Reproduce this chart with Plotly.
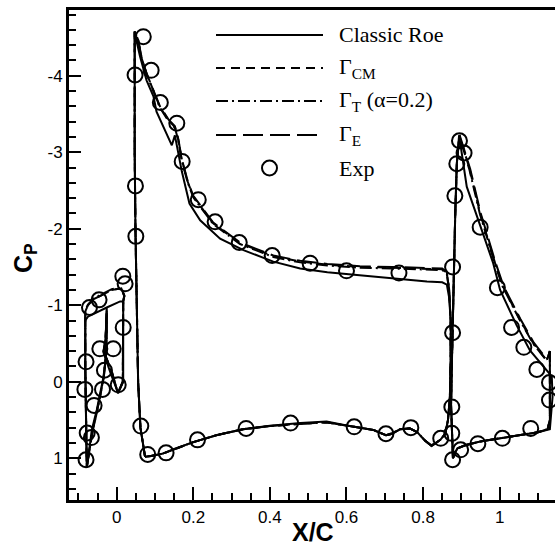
import plotly.graph_objects as go

# ---------------- data ----------------
# Experimental points
exp_x = [-0.080, -0.077, -0.066, -0.059, -0.037, -0.083, -0.080, -0.071, -0.046, -0.044,
         -0.009, -0.032, 0.004, 0.017, 0.016, 0.022,
         0.048, 0.0695, 0.090, 0.114, 0.157, 0.171, 0.213, 0.257, 0.320, 0.406,
         0.505, 0.600, 0.737, 0.049, 0.050,
         0.063, 0.081, 0.129, 0.211, 0.338, 0.454, 0.620, 0.703, 0.768, 0.846,
         0.877, 0.898, 0.943, 1.007, 1.081, 1.130, 1.130,
         0.875, 0.875, 0.877, 0.877, 0.883, 0.888, 0.895, 0.907, 0.949,
         0.994, 1.031, 1.063, 1.097]
exp_y = [1.02, 0.67, 0.73, 0.31, 0.10, 0.10, -0.26, -0.97, -1.07, -0.43,
         -0.43, -0.15, 0.04, -0.71, -1.38, -1.28,
         -4.01, -4.51, -4.07, -3.65, -3.38, -2.88, -2.38, -2.09, -1.82, -1.65,
         -1.55, -1.45, -1.42, -2.56, -1.90,
         0.58, 0.95, 0.93, 0.76, 0.61, 0.54, 0.59, 0.68, 0.60, 0.74,
         1.02, 0.89, 0.81, 0.74, 0.61, 0.24, 0.01,
         0.675, 0.33, -0.64, -1.50, -2.43, -2.85, -3.15, -2.99, -2.02,
         -1.23, -0.71, -0.45, -0.16]

# Classic Roe
roe_slat_x = [0.017, 0.009, -0.026, -0.061, -0.075, -0.082, -0.082, -0.080, -0.078,
              -0.072, -0.065, -0.052, -0.042, -0.035, -0.031, -0.028, -0.026, -0.026,
              -0.029, -0.035, -0.015, 0.004, 0.017, 0.017]
roe_slat_y = [-1.05, -1.05, -0.97, -0.89, -0.85, -0.80, -0.20, 0.50, 1.12,
              0.90, 0.63, 0.37, 0.12, -0.05, -0.20, -0.35, -0.60, -0.97,
              -0.55, -0.39, -0.10, 0.15, 0.00, -1.05]
roe_main_x = [0.074, 0.062, 0.056, 0.052, 0.049, 0.047, 0.046, 0.047, 0.052, 0.061,
              0.078, 0.096, 0.104, 0.126, 0.144, 0.152, 0.160, 0.170, 0.190, 0.218,
              0.270, 0.331, 0.409, 0.479, 0.550, 0.635, 0.720, 0.810, 0.850, 0.862,
              0.868, 0.872, 0.872, 0.870, 0.865, 0.858, 0.845, 0.822, 0.805, 0.785,
              0.765, 0.740, 0.720, 0.703, 0.670, 0.620, 0.548, 0.480, 0.400, 0.330,
              0.260, 0.200, 0.150, 0.120, 0.090, 0.074]
roe_main_y = [0.98, 0.60, 0.00, -1.00, -2.00, -3.00, -4.00, -4.58, -4.45, -4.25,
              -3.94, -3.73, -3.53, -3.29, -3.09, -3.22, -3.00, -2.75, -2.33, -2.11,
              -1.87, -1.72, -1.57, -1.48, -1.43, -1.39, -1.35, -1.31, -1.30, -1.27,
              -1.10, -0.80, -0.30, 0.20, 0.50, 0.68, 0.76, 0.84, 0.77, 0.66,
              0.61, 0.62, 0.68, 0.70, 0.63, 0.59, 0.52, 0.54, 0.575, 0.62,
              0.70, 0.79, 0.88, 0.94, 0.97, 0.98]
roe_flap_x = [0.878, 0.875, 0.873, 0.875, 0.877, 0.879, 0.884, 0.888, 0.894, 0.914,
              0.949, 0.983, 1.001, 1.044, 1.079, 1.114, 1.136, 1.138, 1.135, 1.131,
              1.100, 1.050, 1.000, 0.950, 0.910, 0.890, 0.884, 0.878]
roe_flap_y = [1.00, 0.60, 0.30, -0.20, -0.64, -1.46, -2.20, -2.85, -3.22, -2.55,
              -2.03, -1.55, -1.20, -0.74, -0.41, -0.20, -0.07, 0.20, 0.45, 0.62,
              0.66, 0.70, 0.74, 0.78, 0.83, 0.87, 0.92, 1.00]

# Gamma_CM
cm_slat_x = [0.017, 0.020, 0.012, -0.013, -0.040, -0.060, -0.075, -0.082, -0.082, -0.080,
             -0.078, -0.070, -0.062, -0.050, -0.040, -0.034, -0.030, -0.027, -0.026,
             -0.029, -0.034, -0.012, 0.003, 0.016, 0.017]
cm_slat_y = [-1.05, -1.12, -1.22, -1.20, -1.13, -1.08, -1.00, -0.92, -0.20, 0.50,
             1.12, 0.85, 0.62, 0.35, 0.12, -0.05, -0.25, -0.45, -0.92,
             -0.55, -0.40, -0.12, 0.15, 0.00, -1.05]
cm_main_x = [0.074, 0.062, 0.056, 0.052, 0.049, 0.047, 0.046, 0.047, 0.056, 0.065,
             0.078, 0.096, 0.113, 0.135, 0.152, 0.161, 0.170, 0.185, 0.200, 0.252,
             0.322, 0.409, 0.479, 0.550, 0.635, 0.720, 0.810, 0.850, 0.862, 0.868,
             0.872, 0.872, 0.870, 0.865, 0.858, 0.845, 0.822, 0.805, 0.785, 0.765,
             0.740, 0.720, 0.703, 0.670, 0.620, 0.548, 0.480, 0.400, 0.330, 0.260,
             0.200, 0.150, 0.120, 0.090, 0.074]
cm_main_y = [0.98, 0.60, 0.00, -1.00, -2.00, -3.00, -4.00, -4.58, -4.47, -4.23,
             -4.03, -3.81, -3.59, -3.42, -3.33, -3.16, -2.90, -2.62, -2.42, -2.07,
             -1.81, -1.64, -1.57, -1.53, -1.50, -1.49, -1.48, -1.47, -1.42, -1.20,
             -0.80, -0.30, 0.20, 0.50, 0.68, 0.76, 0.84, 0.77, 0.66, 0.61,
             0.62, 0.68, 0.70, 0.63, 0.59, 0.53, 0.55, 0.58, 0.62, 0.70,
             0.79, 0.88, 0.94, 0.97, 0.98]
cm_flap_x = [0.878, 0.875, 0.873, 0.875, 0.877, 0.879, 0.884, 0.888, 0.895, 0.922,
             0.949, 0.988, 1.009, 1.053, 1.088, 1.123, 1.131, 1.131, 1.125,
             1.100, 1.050, 1.000, 0.950, 0.910, 0.890, 0.884, 0.878]
cm_flap_y = [1.00, 0.60, 0.30, -0.20, -0.64, -1.46, -2.20, -2.85, -3.22, -2.77,
             -2.20, -1.55, -1.24, -0.81, -0.50, -0.28, -0.40, 0.50, 0.62,
             0.66, 0.70, 0.74, 0.78, 0.83, 0.87, 0.92, 1.00]

# Gamma_T (alpha = 0.2)
t_slat_x = [0.017, 0.020, 0.012, -0.013, -0.040, -0.060, -0.075, -0.082, -0.082, -0.080,
            -0.078, -0.070, -0.062, -0.050, -0.040, -0.034, -0.030, -0.027, -0.026,
            -0.029, -0.034, -0.012, 0.003, 0.016, 0.017]
t_slat_y = [-1.05, -1.13, -1.23, -1.21, -1.14, -1.09, -1.01, -0.93, -0.20, 0.50,
            1.12, 0.86, 0.63, 0.36, 0.13, -0.04, -0.24, -0.45, -0.93,
            -0.56, -0.40, -0.11, 0.15, 0.00, -1.05]
t_main_x = [0.074, 0.062, 0.056, 0.052, 0.049, 0.047, 0.046, 0.047, 0.056, 0.065,
            0.078, 0.096, 0.113, 0.135, 0.152, 0.161, 0.170, 0.185, 0.200, 0.252,
            0.322, 0.409, 0.479, 0.550, 0.635, 0.720, 0.810, 0.850, 0.862, 0.868,
            0.872, 0.872, 0.870, 0.865, 0.858, 0.845, 0.822, 0.805, 0.785, 0.765,
            0.740, 0.720, 0.703, 0.670, 0.620, 0.548, 0.480, 0.400, 0.330, 0.260,
            0.200, 0.150, 0.120, 0.090, 0.074]
t_main_y = [0.98, 0.60, 0.00, -1.00, -2.00, -3.00, -4.00, -4.57, -4.46, -4.22,
            -4.02, -3.80, -3.58, -3.41, -3.32, -3.15, -2.89, -2.61, -2.41, -2.06,
            -1.80, -1.63, -1.56, -1.52, -1.49, -1.48, -1.47, -1.46, -1.41, -1.19,
            -0.80, -0.30, 0.20, 0.50, 0.68, 0.76, 0.83, 0.77, 0.66, 0.61,
            0.62, 0.67, 0.70, 0.63, 0.59, 0.53, 0.55, 0.58, 0.62, 0.70,
            0.79, 0.88, 0.94, 0.97, 0.98]
t_flap_x = [0.878, 0.875, 0.873, 0.875, 0.877, 0.879, 0.884, 0.888, 0.895, 0.921,
            0.948, 0.987, 1.008, 1.052, 1.087, 1.122, 1.131, 1.131, 1.125,
            1.100, 1.050, 1.000, 0.950, 0.910, 0.890, 0.884, 0.878]
t_flap_y = [1.00, 0.60, 0.30, -0.20, -0.64, -1.46, -2.20, -2.85, -3.21, -2.77,
            -2.20, -1.55, -1.24, -0.81, -0.50, -0.28, -0.40, 0.50, 0.62,
            0.66, 0.70, 0.74, 0.78, 0.83, 0.87, 0.92, 1.00]

# Gamma_E
e_slat_x = [0.017, 0.020, 0.012, -0.013, -0.040, -0.060, -0.075, -0.082, -0.082, -0.080,
            -0.078, -0.070, -0.062, -0.050, -0.040, -0.034, -0.030, -0.027, -0.026,
            -0.029, -0.034, -0.012, 0.003, 0.016, 0.017]
e_slat_y = [-1.05, -1.12, -1.22, -1.20, -1.13, -1.08, -1.00, -0.92, -0.20, 0.50,
            1.12, 0.85, 0.62, 0.35, 0.12, -0.05, -0.25, -0.45, -0.92,
            -0.55, -0.40, -0.12, 0.15, 0.00, -1.05]
e_main_x = [0.074, 0.062, 0.056, 0.052, 0.049, 0.047, 0.046, 0.047, 0.056, 0.065,
            0.078, 0.096, 0.113, 0.135, 0.152, 0.161, 0.170, 0.185, 0.200, 0.252,
            0.322, 0.409, 0.479, 0.550, 0.635, 0.720, 0.810, 0.850, 0.862, 0.868,
            0.872, 0.872, 0.870, 0.865, 0.858, 0.845, 0.822, 0.805, 0.785, 0.765,
            0.740, 0.720, 0.703, 0.670, 0.620, 0.548, 0.480, 0.400, 0.330, 0.260,
            0.200, 0.150, 0.120, 0.090, 0.074]
e_main_y = [0.98, 0.60, 0.00, -1.00, -2.00, -3.00, -4.00, -4.58, -4.47, -4.24,
            -4.03, -3.82, -3.60, -3.43, -3.34, -3.17, -2.91, -2.63, -2.43, -2.08,
            -1.82, -1.65, -1.58, -1.54, -1.51, -1.50, -1.49, -1.48, -1.43, -1.21,
            -0.80, -0.30, 0.20, 0.50, 0.68, 0.76, 0.84, 0.77, 0.66, 0.61,
            0.62, 0.68, 0.70, 0.63, 0.59, 0.53, 0.55, 0.58, 0.62, 0.70,
            0.79, 0.88, 0.94, 0.97, 0.98]
e_flap_x = [0.878, 0.875, 0.873, 0.875, 0.877, 0.879, 0.884, 0.888, 0.895, 0.923,
            0.950, 0.989, 1.010, 1.054, 1.089, 1.124, 1.131, 1.131, 1.125,
            1.100, 1.050, 1.000, 0.950, 0.910, 0.890, 0.884, 0.878]
e_flap_y = [1.00, 0.60, 0.30, -0.20, -0.64, -1.46, -2.20, -2.85, -3.23, -2.78,
            -2.21, -1.56, -1.25, -0.82, -0.51, -0.29, -0.40, 0.50, 0.62,
            0.66, 0.70, 0.74, 0.78, 0.83, 0.87, 0.92, 1.00]

x_tickvals = [0, 0.2, 0.4, 0.6, 0.8, 1]
x_ticktext = ["0", "0.2", "0.4", "0.6", "0.8", "1"]
y_tickvals = [-4, -3, -2, -1, 0, 1]
y_ticktext = ["-4", "-3", "-2", "-1", "0", "1"]

legend_names = ["Classic Roe", "Γ<sub>CM</sub>", "Γ<sub>T</sub> (α=0.2)", "Γ<sub>E</sub>", "Exp"]


def join(*parts):
    out = []
    for i, p in enumerate(parts):
        if i:
            out.append(None)
        out.extend(p)
    return out


# ---------------- figure ----------------
W, H = 555, 547
ML, MT, MR, MB = 69, 10, 0, 47
PW, PH = W - ML - MR, H - MT - MB

fig = go.Figure()
dashes = ["solid", "9px,6px", "12px,4px,2px,4px", "20px,7px"]
series = [
    (join(roe_slat_x, roe_main_x, roe_flap_x), join(roe_slat_y, roe_main_y, roe_flap_y)),
    (join(cm_slat_x, cm_main_x, cm_flap_x), join(cm_slat_y, cm_main_y, cm_flap_y)),
    (join(t_slat_x, t_main_x, t_flap_x), join(t_slat_y, t_main_y, t_flap_y)),
    (join(e_slat_x, e_main_x, e_flap_x), join(e_slat_y, e_main_y, e_flap_y)),
]
for (sx, sy), dash, name in zip(series, dashes, legend_names[:4]):
    fig.add_trace(go.Scatter(x=sx, y=sy, mode="lines", name=name, connectgaps=False,
                             line=dict(color="black", width=2, dash=dash),
                             showlegend=False))
fig.add_trace(go.Scatter(x=exp_x, y=exp_y, mode="markers", name="Exp", showlegend=False,
                         marker=dict(symbol="circle-open", size=15, color="black",
                                     line=dict(width=2, color="black"))))

x0, x1 = -0.1245, 1.1444
y_bot, y_top = 1.546, -4.859

fig.update_xaxes(range=[x0, x1], showline=True, linecolor="black", linewidth=3, mirror=True,
                 tickmode="array", tickvals=x_tickvals, ticktext=x_ticktext,
                 ticks="inside", ticklen=13, tickwidth=2, tickcolor="black",
                 minor=dict(dtick=0.05, tick0=0, ticks="inside", ticklen=7, tickwidth=1.5,
                            tickcolor="black", showgrid=False),
                 showgrid=False, zeroline=False,
                 tickfont=dict(family="Liberation Sans, Arial", size=17, color="black"))
fig.update_yaxes(range=[y_bot, y_top], showline=True, linecolor="black", linewidth=3, mirror=False,
                 tickmode="array", tickvals=y_tickvals, ticktext=y_ticktext,
                 ticks="inside", ticklen=12, tickwidth=2, tickcolor="black",
                 minor=dict(dtick=0.2, tick0=0, ticks="inside", ticklen=7, tickwidth=1.5,
                            tickcolor="black", showgrid=False),
                 showgrid=False, zeroline=False,
                 tickfont=dict(family="Liberation Sans, Arial", size=17, color="black"))


def px2paper(px, py):
    return (px - ML) / PW, (H - MB - py) / PH


shapes = []
annotations = []
leg_rows = [35, 68, 101, 135, 168]
for i, name in enumerate(legend_names):
    _, yp = px2paper(0, leg_rows[i])
    if i < 4:
        xa, _ = px2paper(216, 0)
        xb, _ = px2paper(323, 0)
        shapes.append(dict(type="line", xref="paper", yref="paper", x0=xa, x1=xb, y0=yp, y1=yp,
                           line=dict(color="black", width=2, dash=dashes[i])))
    xt, _ = px2paper(337, 0)
    annotations.append(dict(xref="paper", yref="paper", x=xt, y=yp, text=name, showarrow=False,
                            xanchor="left", yanchor="middle",
                            font=dict(family="Liberation Serif, Times New Roman", size=22, color="black")))

xc, yc = px2paper(269.5, 168)
shapes.append(dict(type="circle", xref="paper", yref="paper",
                   x0=xc - 7.5 / PW, x1=xc + 7.5 / PW, y0=yc - 7.5 / PH, y1=yc + 7.5 / PH,
                   line=dict(color="black", width=2)))

xa, ya = px2paper(313, 532)
annotations.append(dict(xref="paper", yref="paper", x=xa, y=ya, text="<b>X/C</b>", showarrow=False,
                        xanchor="center", yanchor="middle",
                        font=dict(family="Liberation Sans, Arial", size=25, color="black")))
xa, ya = px2paper(25, 258)
annotations.append(dict(xref="paper", yref="paper", x=xa, y=ya, text="<b>C<sub>P</sub></b>", showarrow=False,
                        xanchor="center", yanchor="middle", textangle=-90,
                        font=dict(family="Liberation Sans, Arial", size=25, color="black")))

fig.update_layout(width=W, height=H, margin=dict(l=ML, r=MR, t=MT, b=MB, pad=0),
                  paper_bgcolor="white", plot_bgcolor="white",
                  shapes=shapes, annotations=annotations, showlegend=False)

fig.write_html("out.html", config={"displayModeBar": False})
